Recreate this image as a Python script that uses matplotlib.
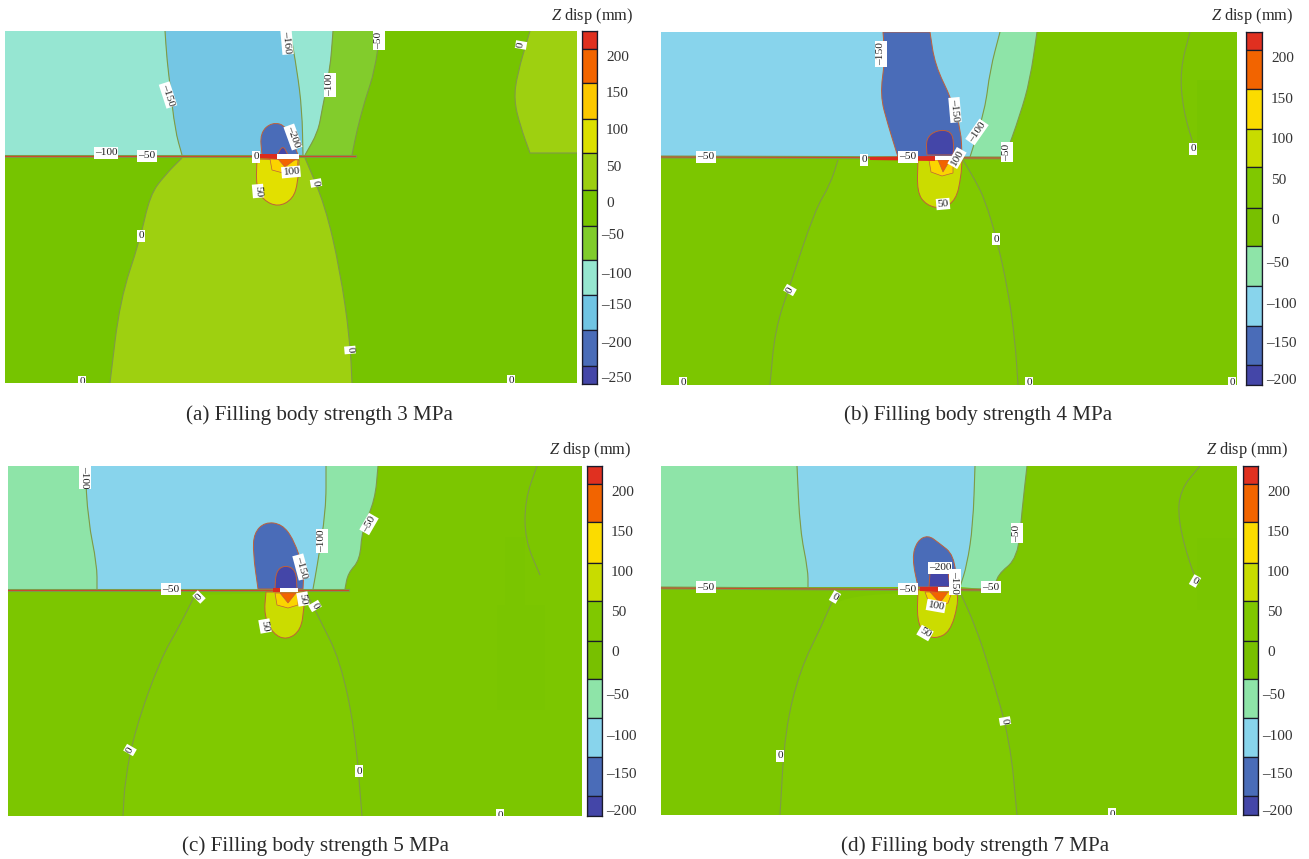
import matplotlib
matplotlib.use("Agg")
import matplotlib.pyplot as plt
from matplotlib.patches import Polygon, Rectangle, PathPatch
from matplotlib.path import Path

plt.rcParams['font.family'] = ['Liberation Serif', 'DejaVu Serif']
plt.rcParams['mathtext.fontset'] = 'custom'
plt.rcParams['mathtext.rm'] = 'Liberation Serif'
plt.rcParams['mathtext.it'] = 'Liberation Serif:italic'

W, H = 1309, 859

# ---------- colour levels ----------
RED, ORANGE, GOLD = '#e03020', '#f26400', '#fbd400'
INDIGO, BLUE = '#4446a8', '#4a6cb8'
A_COLORS = dict(aqua='#96e6d2', sky='#74c6e4', lt='#82cc2c', green='#76c400',
                yg='#9ed010', yellow='#e2e000', blue=BLUE, indigo=INDIGO)
B_COLORS = dict(mint='#8ee4a8', sky='#88d4ec', green='#7cc600', mid='#80c900',
                yellow='#cbdc00', blue=BLUE, indigo=INDIGO)

# ---------- colour bars ----------
CB_A_COLORS = [RED, ORANGE, '#fcc800', '#dce000', '#9ccf10', '#78c400', '#80cc2c', '#96e6d0', '#70c4e4', BLUE, INDIGO]
CB_COLORS = [RED, ORANGE, '#fbdc00', '#c8dc00', '#80c800', '#78c000', '#8ee4a8', '#88d4ec', BLUE, INDIGO]
CB_A_EDGES = [31, 49, 83, 119, 153, 190, 226, 260, 295, 330, 366, 384]
CB_B_EDGES = [32, 50, 89, 129, 167, 208, 246, 286, 326, 365, 385]
CB_C_EDGES = [466, 484, 522, 563, 601, 641, 679, 718, 757, 796, 816]
CB_D_EDGES = [466, 484, 522, 563, 601, 641, 679, 718, 757, 796, 815]
CB_A_LABELS = ['200', '150', '100', '50', '0', '–50', '–100', '–150', '–200', '–250']
CB_LABELS = ['200', '150', '100', '50', '0', '–50', '–100', '–150', '–200']
CB_A_TICKS = [56, 92, 129, 166, 202, 234, 273, 304, 342, 377]
CB_B_TICKS = [57, 98, 138, 179, 219, 262, 303, 342, 379]
CB_C_TICKS = [491, 531, 571, 611, 651, 694, 735, 773, 810]
CB_D_TICKS = [491, 531, 571, 611, 651, 694, 735, 773, 810]

# ---------- panel (a) outlines ----------
A_AQUA1 = [(5,31),(165,31),(167,60),(170,85),(175,130),(182,155),(5,155)]
A_SKY = [(165,31),(290,31),(297,70),(302,110),(303,155),(182,155),(175,130),(170,85),(167,60)]
A_AQUA2 = [(290,31),(333,31),(330,70),(322,110),(318,132),(305,155),(303,155),(302,110),(297,70)]
A_LT = [(333,31),(380,31),(375,70),(365,100),(357,130),(352,155),(305,155),(318,132),(322,110),(330,70)]
A_YG_TOP = [(530,31),(577,31),(577,153),(530,153),(520,125),(514,100),(517,75)]
A_YG_BOT = [(182,158),(305,158),(325,205),(340,270),(350,340),(352,383),(110,383),(120,300),(140,240),(150,195),(165,175)]
A_BLUE = [(262,155),(260,133),(272,122),(287,126),(298,155)]
A_INDIGO = [(277,155),(283,145),(288,155)]
A_YELLOW = [(257,159),(256,186),(263,200),(278,207),(293,199),(298,182),(299,160)]
A_GOLD = [(270,159),(272,170),(283,173),(297,168),(298,160)]
A_ORANGE = [(278,159),(285,167),(296,159)]
A_RED = [(253,154),(277,154),(277,159),(253,158)]
A_WHITE = [(277,154),(299,154),(299,159),(277,159)]
A_MID = [(5,156),(355,156)]
A_CONT = [[(165,31),(167,60),(170,85),(175,130),(182,155)],
          [(290,31),(297,70),(302,110),(303,155)],
          [(333,31),(330,70),(322,110),(318,132),(305,155)],
          [(380,31),(375,70),(365,100),(357,130),(352,155)],
          [(530,31),(517,75),(514,100),(520,125),(530,153),(577,153)],
          [(182,158),(165,175),(150,195),(140,240),(120,300),(110,383)],
          [(305,158),(325,205),(340,270),(350,340),(352,383)]]
A_LABELS = [('–150',168,95,-72),('–160',287,42,-85),('–50',379,40,90),('0',521,45,80),('–100',330,85,90),
            ('–200',293,137,-70),('–100',106,153,0),('–50',147,156,0),('0',256,157,0),('100',291,172,5),
            ('50',258,191,-85),('0',316,183,-80),('0',141,236,0),('0',350,350,-85),('0',82,382,0),('0',511,381,0)]

# ---------- panel (b) outlines ----------
B_SKY = [(661,32),(1000,32),(990,70),(985,110),(970,157),(661,157)]
B_MINT = [(1000,32),(1037,32),(1030,80),(1020,115),(1005,157),(970,157),(985,110),(990,70)]
B_BLUE = [(883,32),(930,32),(935,65),(952,100),(961,130),(962,157),(898,157),(888,125),(880,95),(885,60)]
B_INDIGO = [(927,155),(926,138),(937,130),(951,131),(954,143),(953,155)]
B_MIDDLE = [(838,160),(963,160),(975,180),(985,200),(997,240),(1008,290),(1015,340),(1018,385),(770,385),(775,330),(790,285),(815,210),(830,185)]
B_YELLOW = [(918,160),(917,192),(926,205),(942,209),(956,200),(961,177),(962,160)]
B_GOLD = [(929,160),(931,172),(942,176),(953,173),(953,160)]
B_ORANGE = [(938,160),(943,172),(950,160)]
B_RED = [(870,157),(935,156),(935,161),(870,160)]
B_WHITE = [(935,156),(962,156),(962,160),(935,160)]
B_MID = [(661,157),(1005,158)]
B_SHADE = [(1197,80),(1237,80),(1237,150),(1197,150)]
B_CONT = [[(1000,32),(990,70),(985,110),(970,157)],
          [(1037,32),(1030,80),(1020,115),(1005,157)],
          [(838,160),(830,185),(815,210),(790,285),(775,330),(770,385)],
          [(963,160),(975,180),(985,200),(997,240),(1008,290),(1015,340),(1018,385)],
          [(1190,32),(1180,70),(1183,110),(1195,150)]]
B_LABELS = [('–150',881,54,90),('–150',955,110,-85),('–100',977,132,55),('–50',1007,152,90),('–50',706,157,0),
            ('0',864,160,0),('–50',908,157,0),('100',957,158,60),('50',943,204,5),('0',1193,149,0),
            ('0',996,239,0),('0',790,290,60),('0',683,383,0),('0',1029,383,0),('0',1232,383,0)]

# ---------- panel (c) outlines ----------
C_MINT1 = [(8,466),(85,466),(88,520),(97,565),(97,589),(8,589)]
C_SKY = [(85,466),(326,466),(326,510),(317,567),(313,589),(97,589),(97,565),(88,520)]
C_MINT2 = [(326,466),(378,466),(375,500),(362,530),(360,560),(348,573),(345,589),(313,589),(317,567),(326,510)]
C_BLUE = [(258,589),(253,553),(254,533),(265,522),(282,524),(294,540),(304,570),(303,589)]
C_INDIGO = [(275,589),(276,571),(285,565),(296,570),(297,589)]
C_MIDDLE = [(195,595),(306,592),(320,620),(340,660),(355,730),(362,816),(123,816),(125,780),(135,730),(160,660),(180,625)]
C_YELLOW = [(266,592),(264,615),(273,634),(287,640),(301,630),(304,607),(305,592)]
C_GOLD = [(275,593),(277,605),(288,608),(298,605),(298,593)]
C_ORANGE = [(280,593),(288,603),(296,593)]
C_RED = [(273,588),(280,588),(280,592),(273,592)]
C_WHITE = [(280,588),(298,588),(298,592),(280,592)]
C_MID = [(8,590),(348,590)]
C_SHADE = [(497,605),(545,605),(545,710),(497,710)]
C_SHADE2 = [(505,537),(525,537),(525,605),(505,605)]
C_CONT = [[(85,466),(88,520),(97,565),(97,589)],
          [(326,466),(326,510),(317,567),(313,589)],
          [(378,466),(375,500),(362,530),(360,560),(348,573),(345,589)],
          [(195,595),(180,625),(160,660),(135,730),(125,780),(123,816)],
          [(306,592),(320,620),(340,660),(355,730),(362,816)],
          [(537,466),(525,500),(525,540),(540,575)]]
C_LABELS = [('–100',85,477,-90),('–100',322,541,90),('–50',369,524,60),('–150',301,567,-75),('–50',171,589,0),
            ('0',199,597,45),('50',303,599,-80),('0',315,606,-60),('50',265,626,-80),('0',130,750,60),
            ('0',359,771,0),('0',500,815,0)]

# ---------- panel (d) outlines ----------
D_MINT1 = [(661,466),(797,466),(800,530),(808,570),(808,587),(661,587)]
D_SKY = [(797,466),(975,466),(973,525),(967,565),(960,587),(808,587),(808,570),(800,530)]
D_MINT2 = [(975,466),(1027,466),(1022,510),(1018,558),(997,575),(995,590),(960,587),(967,565),(973,525)]
D_BLUE = [(918,587),(912,558),(917,541),(928,535),(939,543),(954,555),(957,587)]
D_INDIGO = [(929,587),(930,573),(948,572),(950,587)]
D_MIDDLE = [(835,595),(960,592),(975,625),(990,670),(1010,740),(1017,815),(780,815),(785,730),(800,670),(822,625)]
D_YELLOW = [(918,590),(917,620),(924,634),(935,639),(950,632),(958,605),(957,590)]
D_GOLD = [(925,592),(928,600),(942,605),(948,603),(952,592)]
D_ORANGE = [(930,592),(940,603),(948,592)]
D_RED = [(920,587),(938,587),(938,592),(920,591)]
D_WHITE = [(938,587),(958,587),(958,591),(938,591)]
D_MID = [(661,588),(995,590)]
D_SHADE = [(1197,538),(1237,538),(1237,610),(1197,610)]
D_CONT = [[(797,466),(800,530),(808,570),(808,587)],
          [(975,466),(973,525),(967,565),(960,587)],
          [(1027,466),(1022,510),(1018,558),(997,575),(995,590)],
          [(835,595),(822,625),(800,670),(785,730),(780,815)],
          [(960,592),(975,625),(990,670),(1010,740),(1017,815)],
          [(1200,466),(1180,490),(1178,520),(1190,565),(1197,580)]]
D_LABELS = [('–50',1017,533,90),('–200',940,568,0),('–150',955,582,-90),('–50',706,587,0),('0',835,597,-30),
            ('–50',908,589,0),('–50',991,587,0),('100',936,606,-10),('50',925,633,-30),('0',1195,581,-30),
            ('0',1005,721,-80),('0',780,756,0),('0',1112,814,0)]

CAPTIONS = ['(a) Filling body strength 3 MPa', '(b) Filling body strength 4 MPa',
            '(c) Filling body strength 5 MPa', '(d) Filling body strength 7 MPa']
CAPTION_POS = [(319, 415), (978, 415), (315, 846), (975, 846)]
TITLE_POS = [(633, 16), (1293, 16), (631, 450), (1288, 450)]
BOXES = [(5, 577, 31, 383), (661, 1237, 32, 385), (8, 582, 466, 816), (661, 1237, 466, 815)]
DIVIDERS = [155, 157, 589, 588]
CB_BOXES = [(582, 597), (1246, 1262), (587, 602), (1243, 1258)]

LINE = '#7f9a48'

fig = plt.figure(figsize=(W / 100, H / 100), dpi=100, facecolor='white')


def make_axes(x0, x1, y0, y1):
    ax = fig.add_axes([x0 / W, 1 - y1 / H, (x1 - x0) / W, (y1 - y0) / H])
    ax.set_xlim(x0, x1)
    ax.set_ylim(y1, y0)
    return ax


def rounded(pts, box, div, closed):
    """Path through the outline with quadratic rounding of its inner corners;
    corners on the panel edge or on the roadway line stay sharp."""
    if closed and len(pts) == 4:
        return Path(list(pts) + [pts[0]], closed=True)

    def sharp(i):
        x, y = pts[i]
        if not closed and i in (0, len(pts) - 1):
            return True
        return (x <= box[0] or x >= box[1] or y <= box[2] or y >= box[3] or abs(y - div) <= 6)
    n = len(pts)
    verts, codes = [], []
    start = next((i for i in range(n) if sharp(i)), 0)
    order = [(start + k) % n for k in range(n)] if closed else list(range(n))
    verts.append(pts[order[0]])
    codes.append(Path.MOVETO)
    for j in range(1, len(order)):
        i = order[j]
        p = pts[i]
        if sharp(i):
            verts.append(p)
            codes.append(Path.LINETO)
        else:
            prev = pts[order[j - 1]]
            nxt = pts[order[(j + 1) % len(order)]]
            verts.append(((prev[0] + p[0]) / 2, (prev[1] + p[1]) / 2))
            codes.append(Path.LINETO)
            verts.append(p)
            codes.append(Path.CURVE3)
            verts.append(((nxt[0] + p[0]) / 2, (nxt[1] + p[1]) / 2))
            codes.append(Path.CURVE3)
    if closed:
        verts.append(pts[order[0]])
        codes.append(Path.CLOSEPOLY)
    return Path(verts, codes)


def panel(idx, bg, regions, blobs, facets, mid, conts, labels, red, white):
    box, div = BOXES[idx], DIVIDERS[idx]
    ax = make_axes(*box)
    ax.axis('off')
    ax.add_patch(Rectangle((box[0], box[2]), box[1] - box[0], box[3] - box[2], facecolor=bg, edgecolor='none', zorder=0))
    for pts, col in regions:
        ax.add_patch(PathPatch(rounded(pts, box, div, True), facecolor=col, edgecolor='none', zorder=1))
    for c in conts:
        ax.add_patch(PathPatch(rounded(c, box, div, False), facecolor='none', edgecolor=LINE, lw=0.8, zorder=2))
    ax.plot(*zip(*mid), color=LINE, lw=2.2, zorder=2.1)
    ax.plot(*zip(*mid), color='#d0482c', lw=0.7, zorder=2.2)
    for pts, col in blobs:
        ax.add_patch(PathPatch(rounded(pts, box, div, True), facecolor=col, edgecolor='#c0603a', lw=0.7, zorder=3))
    for pts, col in facets:
        ax.add_patch(Polygon(pts, closed=True, facecolor=col, edgecolor='#c0603a', lw=0.5, zorder=3))
    ax.add_patch(Polygon(red, closed=True, facecolor='#dc2c1c', edgecolor='none', zorder=4))
    ax.add_patch(Polygon(white, closed=True, facecolor='white', edgecolor='none', zorder=4))
    for s, x, y, r in labels:
        ax.text(x, y, s, rotation=r, ha='center', va='center', fontsize=8.2, color='#222222', zorder=6,
                rotation_mode='anchor', clip_on=True,
                bbox=dict(facecolor='white', edgecolor='none', pad=0.8))
    return ax


def colorbar(xs, edges, colors, ticks, labels):
    ax = make_axes(xs[0], xs[1], edges[0], edges[-1])
    for i, col in enumerate(colors):
        ax.bar(0.5, edges[i + 1] - edges[i], bottom=edges[i], width=1, color=col,
               edgecolor='#1a1a2a', lw=0.9)
    ax.set_xlim(0, 1)
    ax.set_xticks([])
    ax.yaxis.tick_right()
    ax.set_yticks(ticks)
    ax.set_yticklabels(labels, fontsize=11, color='#333333')
    ax.tick_params(axis='y', length=0)
    for t, s in zip(ax.yaxis.get_major_ticks(), labels):
        t.set_pad(2.9 if s.startswith('–') else 6.5)
    for sp in ax.spines.values():
        sp.set_linewidth(0.9)
        sp.set_color('#1a1a2a')


a, b = A_COLORS, B_COLORS
panel(0, a['green'],
      [(A_AQUA1, a['aqua']), (A_SKY, a['sky']), (A_AQUA2, a['aqua']), (A_LT, a['lt']),
       (A_YG_TOP, a['yg']), (A_YG_BOT, a['yg'])],
      [(A_BLUE, a['blue']), (A_INDIGO, a['indigo']), (A_YELLOW, a['yellow'])],
      [(A_GOLD, GOLD), (A_ORANGE, ORANGE)],
      A_MID, A_CONT, A_LABELS, A_RED, A_WHITE)

panel(1, b['green'],
      [(B_SKY, b['sky']), (B_MINT, b['mint']), (B_MIDDLE, b['mid']), (B_SHADE, '#78c400')],
      [(B_BLUE, b['blue']), (B_INDIGO, b['indigo']), (B_YELLOW, b['yellow'])],
      [(B_GOLD, GOLD), (B_ORANGE, ORANGE)],
      B_MID, B_CONT, B_LABELS, B_RED, B_WHITE)

panel(2, b['green'],
      [(C_MINT1, b['mint']), (C_SKY, b['sky']), (C_MINT2, b['mint']), (C_MIDDLE, b['mid']),
       (C_SHADE, '#7ac500'), (C_SHADE2, '#7ac500')],
      [(C_BLUE, b['blue']), (C_INDIGO, b['indigo']), (C_YELLOW, b['yellow'])],
      [(C_GOLD, GOLD), (C_ORANGE, ORANGE)],
      C_MID, C_CONT, C_LABELS, C_RED, C_WHITE)

panel(3, b['green'],
      [(D_MINT1, b['mint']), (D_SKY, b['sky']), (D_MINT2, b['mint']), (D_MIDDLE, b['mid']), (D_SHADE, '#7ac500')],
      [(D_BLUE, b['blue']), (D_INDIGO, b['indigo']), (D_YELLOW, b['yellow'])],
      [(D_GOLD, GOLD), (D_ORANGE, ORANGE)],
      D_MID, D_CONT, D_LABELS, D_RED, D_WHITE)

colorbar(CB_BOXES[0], CB_A_EDGES, CB_A_COLORS, CB_A_TICKS, CB_A_LABELS)
colorbar(CB_BOXES[1], CB_B_EDGES, CB_COLORS, CB_B_TICKS, CB_LABELS)
colorbar(CB_BOXES[2], CB_C_EDGES, CB_COLORS, CB_C_TICKS, CB_LABELS)
colorbar(CB_BOXES[3], CB_D_EDGES, CB_COLORS, CB_D_TICKS, CB_LABELS)

for s, (x, y) in zip(CAPTIONS, CAPTION_POS):
    fig.text(x / W, 1 - y / H, s, ha='center', va='center', fontsize=15.2, color='#2a2a2a')
for (x, y) in TITLE_POS:
    fig.text(x / W, 1 - y / H, r'$\mathit{Z}$ disp (mm)', ha='right', va='center', fontsize=11.8, color='#2a2a2a')

fig.savefig('out.png', dpi=100)
